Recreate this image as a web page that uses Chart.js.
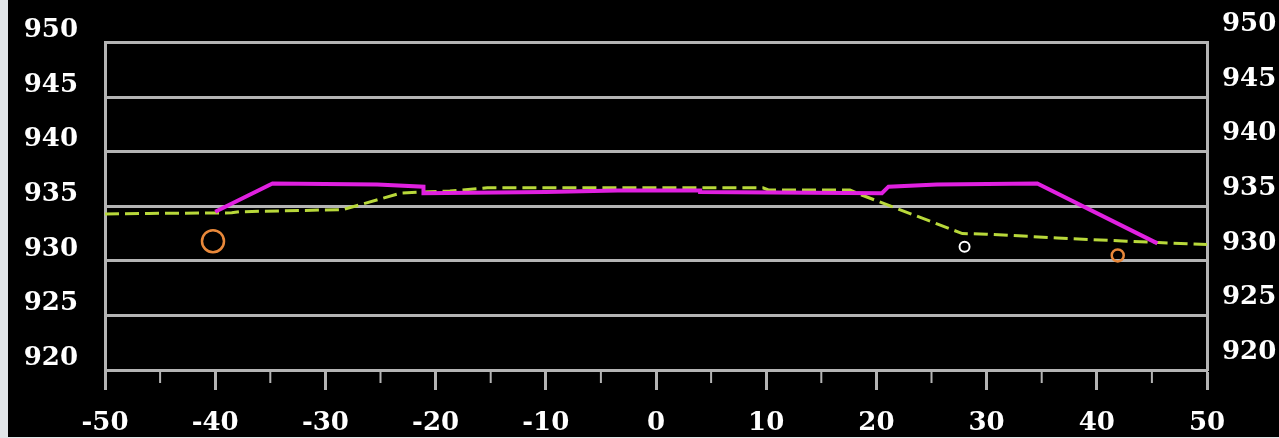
<!DOCTYPE html>
<html>
<head>
<meta charset="utf-8">
<script src="https://cdn.jsdelivr.net/npm/chart.js@4.4.1/dist/chart.umd.min.js"></script>
<style>
    body { margin: 0; background: #e1e5e8; }
    #wrap { position: absolute; left: 8px; top: 0; width: 1271px; height: 437px; background: #000; }
</style>
</head>
<body>
<div id="wrap"><canvas id="section"></canvas></div>
<script>
// design line (magenta)
const roadX = [-40, -34.8, -25.3, -21.1, -21.1, -10, -3.5, 4, 4, 20.5, 21.1, 25.5, 34.6, 45.5];
const roadY = [934.5, 937.1, 937.0, 936.8, 936.2, 936.3, 936.45, 936.45, 936.3, 936.2, 936.8, 937.0, 937.1, 931.6];

// existing ground (green dashed)
const groundX = [-50, -46, -38.5, -37.8, -28.4, -23.2, -21.4, -18.7, -15.3, 9.7, 10.2, 17.6, 18.5, 27.8, 30, 36.4, 42.7, 50];
const groundY = [934.3, 934.35, 934.4, 934.5, 934.7, 936.2, 936.3, 936.4, 936.7, 936.7, 936.5, 936.5, 936.1, 932.5, 932.45, 932.1, 931.8, 931.5];

// markers
const orangeX = [-40.2, 41.9];
const orangeY = [931.8, 930.5];
const orangeR = [11, 6];
const whiteX = [28.0];
const whiteY = [931.3];

const minorTicks = [-45, -35, -25, -15, -5, 5, 15, 25, 35, 45];

const toPoints = (xs, ys) => xs.map((x, i) => ({ x: x, y: ys[i] }));

const gray = '#b4b4b4';
const labelFont = { family: 'DejaVu Serif', size: 26, weight: 'bold' };

const minorTickPlugin = {
    id: 'minorTicks',
    afterDraw(chart) {
        const ctx = chart.ctx;
        const xs = chart.scales.x;
        const bottom = chart.chartArea.bottom;
        ctx.save();
        ctx.strokeStyle = gray;
        ctx.lineWidth = 2;
        minorTicks.forEach(v => {
            const px = xs.getPixelForValue(v);
            ctx.beginPath();
            ctx.moveTo(px, bottom);
            ctx.lineTo(px, bottom + 13);
            ctx.stroke();
        });
        ctx.restore();
    }
};

new Chart(document.getElementById('section').getContext('2d'), {
    type: 'line',
    data: {
        datasets: [{
            data: toPoints(roadX, roadY),
            borderColor: '#e020e0',
            borderWidth: 4,
            pointRadius: 0,
            tension: 0
        }, {
            data: toPoints(groundX, groundY),
            borderColor: '#b8d83a',
            borderWidth: 3,
            borderDash: [14, 6],
            pointRadius: 0,
            tension: 0
        }, {
            data: toPoints(orangeX, orangeY),
            showLine: false,
            pointRadius: orangeR,
            pointBorderColor: '#e8883a',
            pointBackgroundColor: 'transparent',
            pointBorderWidth: 2.5
        }, {
            data: toPoints(whiteX, whiteY),
            showLine: false,
            pointRadius: 5,
            pointBorderColor: '#ffffff',
            pointBackgroundColor: 'transparent',
            pointBorderWidth: 2
        }]
    },
    options: {
        responsive: true,
        maintainAspectRatio: false,
        animation: false,
        layout: { padding: { top: 39 } },
        plugins: { legend: { display: false }, tooltip: { enabled: false } },
        scales: {
            x: {
                type: 'linear',
                min: -50,
                max: 50,
                afterFit: s => { s.height = 67; },
                ticks: { stepSize: 10, color: '#fff', font: labelFont, padding: 18, maxRotation: 0 },
                grid: { drawOnChartArea: false, tickLength: 20, tickColor: gray, tickWidth: 3 },
                border: { display: true, color: gray, width: 3 }
            },
            y: {
                position: 'left',
                min: 920,
                max: 950,
                afterFit: s => { s.width = 97; },
                ticks: { stepSize: 5, color: '#fff', font: labelFont, padding: 27, labelOffset: -12 },
                grid: { color: gray, lineWidth: 3, drawTicks: false },
                border: { display: true, color: gray, width: 3 }
            },
            y2: {
                position: 'right',
                min: 920,
                max: 950,
                afterFit: s => { s.width = 72; },
                ticks: { stepSize: 5, color: '#fff', font: labelFont, padding: 15, labelOffset: -18 },
                grid: { display: false, drawTicks: false },
                border: { display: true, color: gray, width: 3 }
            }
        }
    },
    plugins: [minorTickPlugin]
});
</script>
</body>
</html>
